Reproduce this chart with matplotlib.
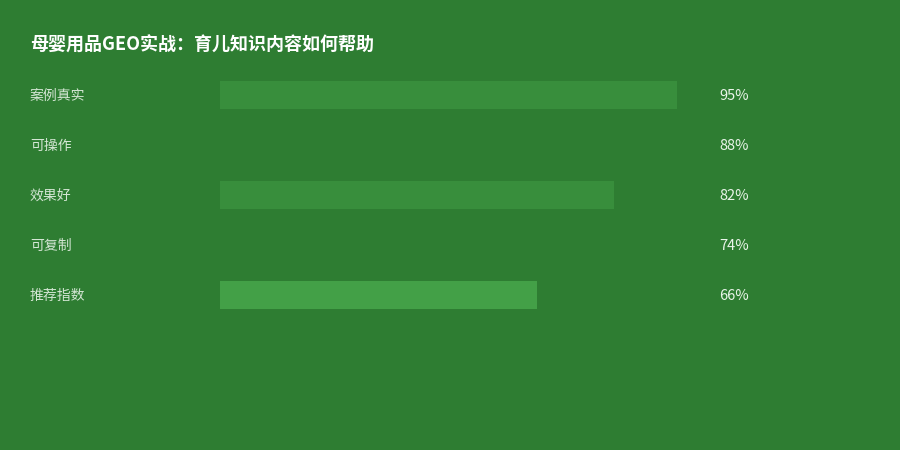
import matplotlib.pyplot as plt
from matplotlib.transforms import blended_transform_factory

plt.rcParams['font.family'] = ['Noto Sans CJK SC', 'DejaVu Sans']

# 数据
categories = ["案例真实", "可操作", "效果好", "可复制", "推荐指数"]
values = [95, 88, 82, 74, 66]
value_labels = ["95%", "88%", "82%", "74%", "66%"]
bar_colors = ["#388E3C", "#2E7D32", "#388E3C", "#2E7D32", "#43A047"]

bg = "#2E7D32"

fig = plt.figure(figsize=(9, 4.5), dpi=100, facecolor=bg)
# 条形区域：x 220..701 px，行 69..319 px
ax = fig.add_axes([220 / 900, 1 - 319.5 / 450, 481 / 900, 250 / 450])
ax.set_facecolor(bg)
ax.patch.set_alpha(0)

ypos = list(range(len(categories)))
ax.barh(ypos, values, height=0.56, color=bar_colors, left=0)
ax.set_xlim(0, 100)
ax.set_ylim(len(categories) - 0.5, -0.5)
ax.axis('off')

trans = blended_transform_factory(fig.transFigure, ax.transData)
for y, cat, lab in zip(ypos, categories, value_labels):
    ax.text(30 / 900, y + 0.02, cat, transform=trans, ha='left', va='center',
            fontsize=10, color='#d4e6d4')
    ax.text(719.5 / 900, y + 0.02, lab, transform=trans, ha='left', va='center',
            fontsize=10.5, color='#eaf5ea')

fig.text(30 / 900, 1 - 45.5 / 450, "母婴用品GEO实战：育儿知识内容如何帮助",
         ha='left', va='center', fontsize=13, fontweight='bold', color='white')

fig.savefig('out.png', dpi=100, facecolor=bg)
